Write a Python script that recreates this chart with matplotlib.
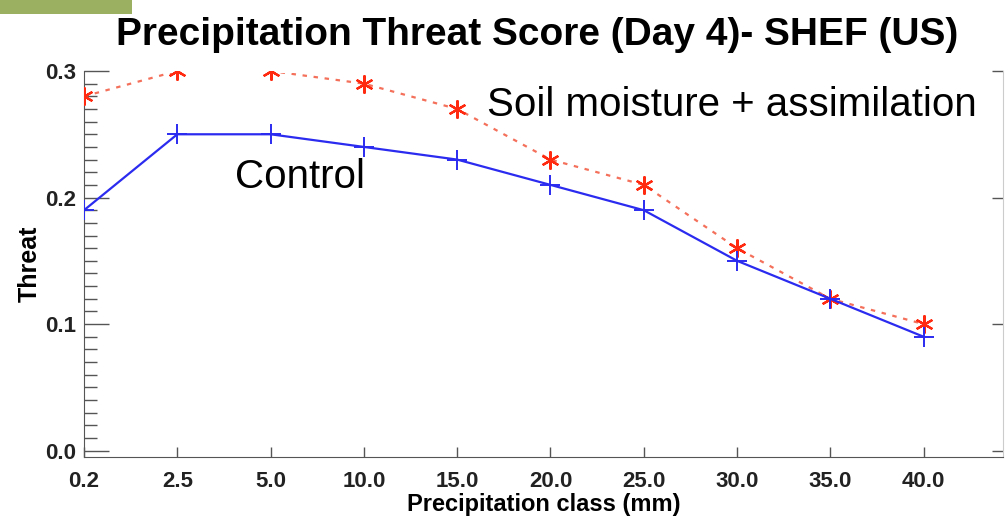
import matplotlib
matplotlib.use("Agg")
import matplotlib.pyplot as plt
from matplotlib.patches import Rectangle
from matplotlib.ticker import MultipleLocator, FormatStrFormatter
from matplotlib.transforms import Bbox, TransformedBbox

# precipitation classes (mm) and threat scores
classes = ["0.2", "2.5", "5.0", "10.0", "15.0", "20.0", "25.0", "30.0", "35.0", "40.0"]
control = [0.19, 0.25, 0.25, 0.24, 0.23, 0.21, 0.19, 0.15, 0.12, 0.09]
soil_assim = [0.28, 0.30, 0.30, 0.29, 0.27, 0.23, 0.21, 0.16, 0.12, 0.10]

plt.rcParams['font.family'] = ['Liberation Sans', 'DejaVu Sans']

W, H = 1007, 520
fig = plt.figure(figsize=(W / 100, H / 100), dpi=100)

# green strip in the top left corner
fig.patches.append(Rectangle((0, 1 - 14 / H), 132 / W, 14 / H, transform=fig.transFigure,
                             facecolor='#9bb060', edgecolor='none'))

left, right, top, bottom = 84, 1003, 71, 457
ax = fig.add_axes([left / W, 1 - bottom / H, (right - left) / W, (bottom - top) / H])

x = list(range(len(classes)))
dotted, = ax.plot(x, soil_assim, color='#f4705a', lw=1.6, ls=(0, (2, 3)), zorder=2)
ax.plot(x, soil_assim, ls='none', marker=(6, 2, 0), ms=13, mec='#ff2a10', mew=1.6, zorder=3)
ax.plot(x, control, color='#2b2bf0', lw=1.6, marker='+', ms=14, mew=1.4, zorder=4)

ax.set_xlim(0, 9.85)
ax.set_ylim(-0.005, 0.3)
# values sitting on the top edge are cut off, as in the original plot
dotted.set_clip_box(TransformedBbox(Bbox([[0, -0.005], [9.85, 0.2985]]), ax.transData))

ax.set_xticks(x)
ax.set_xticklabels(classes)
ax.yaxis.set_major_locator(MultipleLocator(0.1))
ax.yaxis.set_minor_locator(MultipleLocator(0.01))
ax.yaxis.set_major_formatter(FormatStrFormatter('%.1f'))

for t in ax.get_xticklabels() + ax.get_yticklabels():
    t.set_fontweight('bold')
    t.set_fontsize(16)
    t.set_color('#222222')

ax.tick_params(axis='x', direction='in', length=7, width=1, color='#555555', pad=10)
ax.tick_params(axis='y', which='major', direction='in', length=18, width=1, color='#555555',
               right=True, pad=6)
ax.tick_params(axis='y', which='minor', direction='in', length=9, width=1, color='#555555')
# shorter ticks on the right edge
for tk in ax.yaxis.get_major_ticks():
    tk.tick2line.set_markersize(8)

ax.spines['top'].set_visible(False)
ax.spines['left'].set_color('#555555')
ax.spines['bottom'].set_color('#555555')
ax.spines['right'].set_color('#cccccc')

ax.set_xlabel('Precipitation class (mm)', fontsize=17, fontweight='bold', labelpad=1)
ax.set_ylabel('Threat', fontsize=18, fontweight='bold', labelpad=2)

fig.text(537 / W, 1 - 35 / H, 'Precipitation Threat Score (Day 4)- SHEF (US)',
         ha='center', va='center', fontsize=28, fontweight='bold')

fig.text(487 / W, 1 - 116 / H, 'Soil moisture + assimilation', ha='left', va='baseline',
         fontsize=29)
fig.text(235 / W, 1 - 188 / H, 'Control', ha='left', va='baseline', fontsize=29)

fig.savefig('out.png', dpi=100)
